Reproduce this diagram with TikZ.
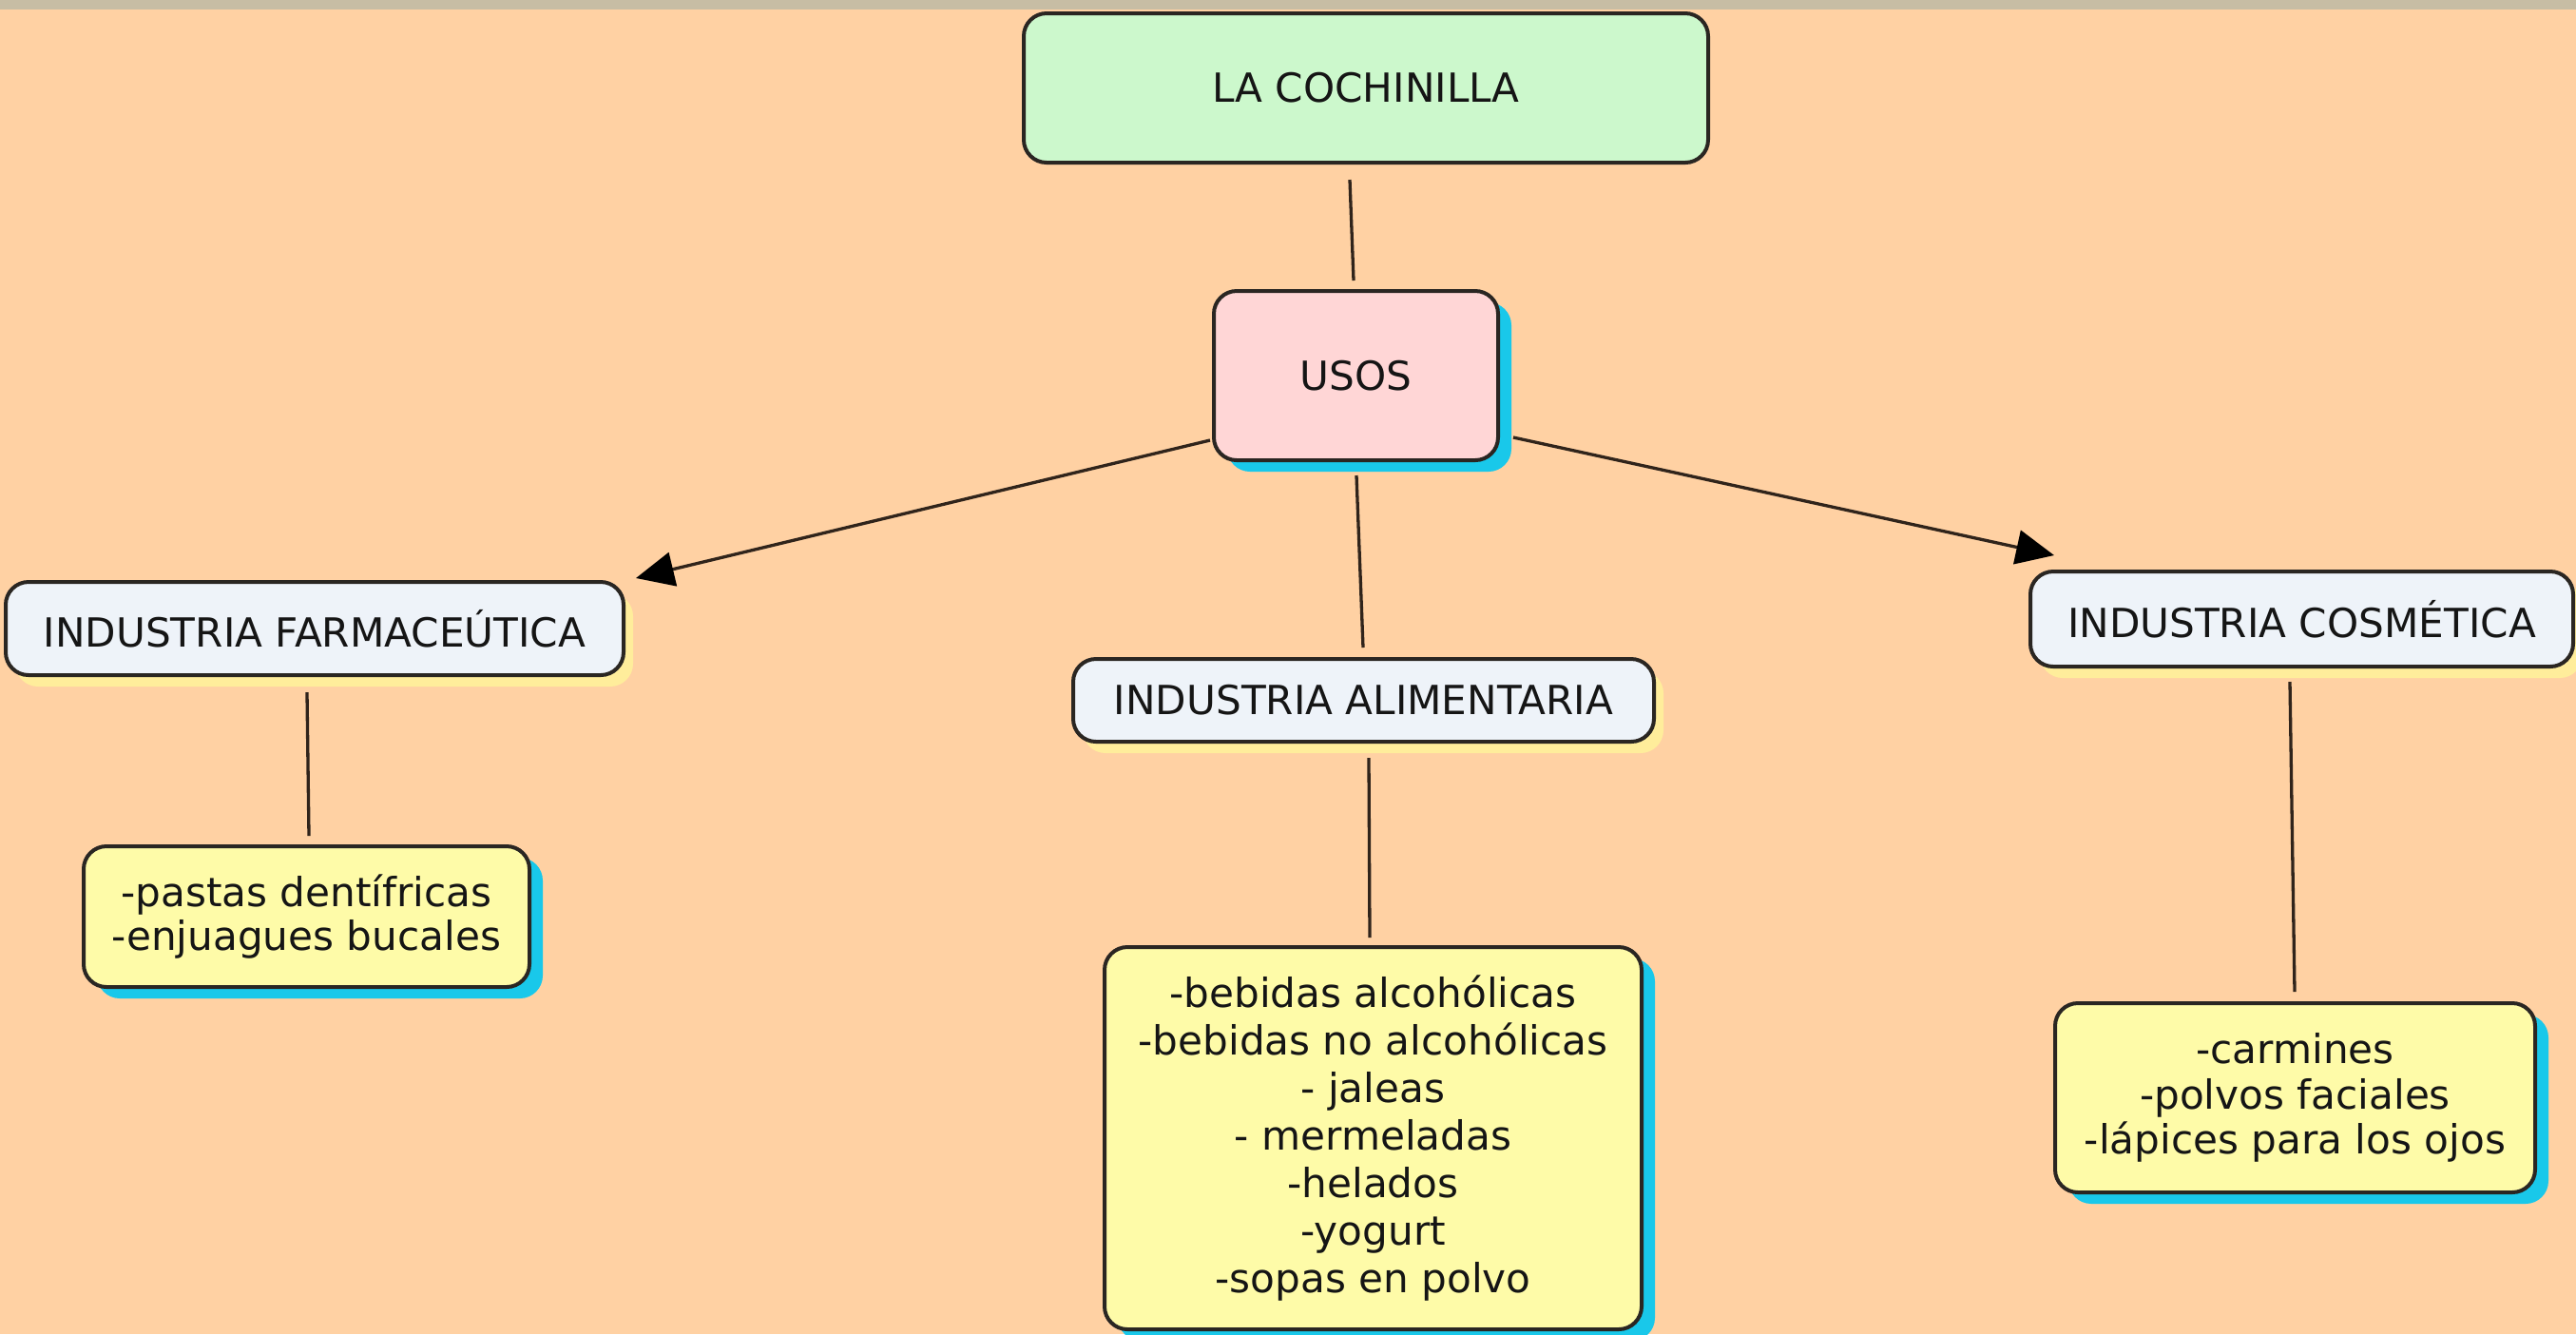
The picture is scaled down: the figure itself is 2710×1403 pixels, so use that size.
\documentclass[tikz,border=0pt]{standalone}
\usepackage{fontspec}
\setmainfont{DejaVu Sans}
\usetikzlibrary{calc,arrows.meta,shadows}
\definecolor{bg}{HTML}{FFD1A3}
\definecolor{topbar}{HTML}{C7BDA4}
\definecolor{cochfill}{HTML}{CCF8CC}
\definecolor{usosfill}{HTML}{FFD6D6}
\definecolor{indfill}{HTML}{EEF3F9}
\definecolor{listfill}{HTML}{FEFBA8}
\definecolor{cyanshadow}{HTML}{19C8EA}
\definecolor{yellowglow}{HTML}{FFF29A}
\definecolor{boxline}{HTML}{2A2622}
\definecolor{linkline}{HTML}{30241B}
\definecolor{txt}{HTML}{151515}
\begin{document}
\begin{tikzpicture}[x=0.1mm,y=-0.1mm,
  box/.style={draw=boxline, line width=0.4mm, rounded corners=2.4mm, inner sep=0pt,
    align=center, text=txt, font=\fontsize{12}{14.2}\selectfont},
  blueshadow/.style={drop shadow={shadow xshift=1.4mm, shadow yshift=-1.2mm, fill=cyanshadow, opacity=1}},
  glow/.style={drop shadow={shadow xshift=1.0mm, shadow yshift=-1.2mm, fill=yellowglow, opacity=0.85}},
  indbox/.style={box, glow, fill=indfill},
  listbox/.style={box, blueshadow, fill=listfill},
  link/.style={draw=linkline, line width=0.33mm},
  arr/.style={link, -{Triangle[length=4mm, width=3.6mm, fill=black, color=black]}}]
\useasboundingbox (0,0) rectangle (2710,1403);
\fill[bg] (0,0) rectangle (2710,1403);
\fill[topbar] (0,0) rectangle (2710,10);

\node[box, fill=cochfill, minimum width=72mm, minimum height=15.7mm] (coch) at (1437,92.5) {LA COCHINILLA};
\node[box, blueshadow, fill=usosfill, minimum width=29.9mm, minimum height=17.8mm] (usos) at (1426.5,395) {USOS};
\node[indbox, minimum width=65mm, minimum height=9.8mm] (farm) at (331,661) {INDUSTRIA FARMACEÚTICA};
\node[indbox, minimum width=61.1mm, minimum height=8.7mm] (alim) at (1434.5,736.5) {INDUSTRIA ALIMENTARIA};
\node[indbox, minimum width=57.1mm, minimum height=10mm] (cosm) at (2421.5,651) {INDUSTRIA COSMÉTICA};
\node[listbox, font=\fontsize{12}{13.2}\selectfont, minimum width=46.9mm, minimum height=14.8mm] (pastas) at (322.5,964) {-pastas dentífricas\\-enjuagues bucales};
\node[listbox, minimum width=56.5mm, minimum height=40.2mm] (alimlist) at (1444.5,1197) {-bebidas alcohólicas\\-bebidas no alcohólicas\\- jaleas\\- mermeladas\\-helados\\-yogurt\\-sopas en polvo};
\node[listbox, font=\fontsize{12}{13.6}\selectfont, minimum width=50.5mm, minimum height=19.9mm] (cosmlist) at (2414.5,1154.5) {-carmines\\-polvos faciales\\-lápices para los ojos};

\draw[link] ($(coch.south)+(-17,16)$) -- ($(usos.north)+(-2.5,-9)$);
\draw[link] ($(usos.south)+(0.5,14)$) -- ($(alim.north)+(-0.5,-10)$);
\draw[link] ($(farm.south)+(-8,16)$) -- ($(pastas.north)+(2.5,-9)$);
\draw[link] ($(alim.south)+(5.5,15)$) -- ($(alimlist.north)+(-3.5,-8)$);
\draw[link] ($(cosm.south)+(-12.5,14)$) -- ($(cosmlist.north)+(-0.5,-10)$);
\draw[arr] ($(usos.west)+(-2,68)$) -- ($(farm.north east)+(11,-2)$);
\draw[arr] ($(usos.east)+(14,65)$) -- ($(cosm.north west)+(27,-15)$);
\end{tikzpicture}
\end{document}
